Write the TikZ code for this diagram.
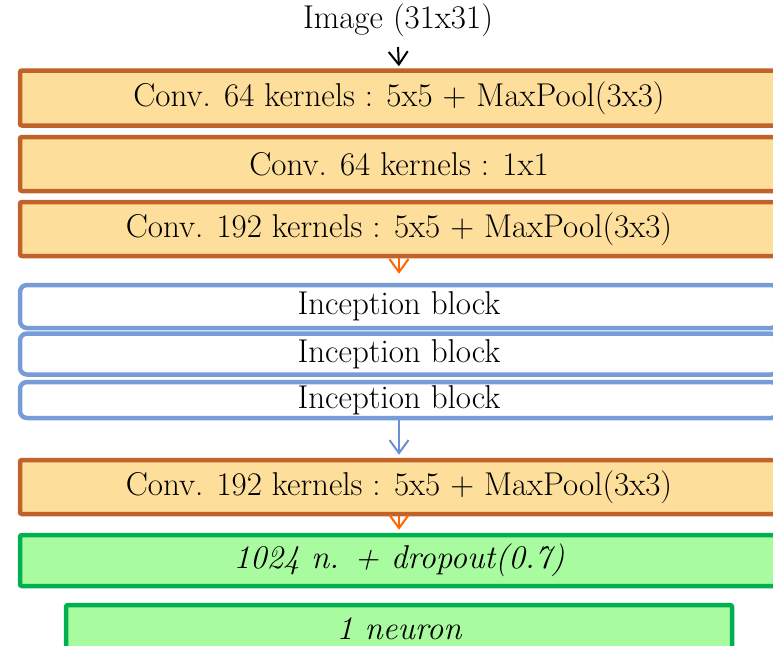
\documentclass[tikz,border=0pt]{standalone}
\usetikzlibrary{arrows.meta}
\definecolor{convline}{RGB}{192,98,42}
\definecolor{convfill}{RGB}{254,222,155}
\definecolor{incline}{RGB}{119,156,216}
\definecolor{denseline}{RGB}{0,176,80}
\definecolor{densefill}{RGB}{169,251,160}
\definecolor{arrorange}{RGB}{255,102,0}
\definecolor{arrblue}{RGB}{106,143,214}
\tikzset{
  layer/.style={minimum width=758pt,inner sep=0pt,line width=4.5pt,font=\fontsize{33}{36}\selectfont},
  convbox/.style={layer,draw=convline,fill=convfill,rounded corners=2pt,minimum height=54pt},
  incbox/.style={layer,draw=incline,fill=white,rounded corners=7pt},
  densebox/.style={layer,draw=denseline,fill=densefill,rounded corners=2pt,minimum height=51pt,font=\fontsize{33}{36}\selectfont\itshape},
  flow/.style={-{Straight Barb[length=13pt,width=19pt]},line width=2pt}
}
\begin{document}
\begin{tikzpicture}[x=1pt,y=-1pt]
  \clip (0,0) rectangle (773,645);
  \node[font=\fontsize{33}{36}\selectfont] (img) at (398,20) {Image (31x31)};
  \node[convbox,minimum height=55pt] (c1) at (399,98) {Conv. 64 kernels : 5x5 + MaxPool(3x3)};
  \node[convbox] (c2) at (399,164) {Conv. 64 kernels : 1x1};
  \node[convbox] (c3) at (399,229) {Conv. 192 kernels : 5x5 + MaxPool(3x3)};
  \node[incbox,minimum height=43pt] (i1) at (399,306.5) {Inception block};
  \node[incbox,minimum height=41pt] (i2) at (399,354) {Inception block};
  \node[incbox,minimum height=36pt] (i3) at (399,400) {Inception block};
  \node[convbox] (c4) at (399,487) {Conv. 192 kernels : 5x5 + MaxPool(3x3)};
  \node[densebox] (d1) at (399,560.5) {1024 n. + dropout(0.7)};
  \node[densebox,minimum width=666pt,minimum height=47pt] (d2) at (399,628.5) {1 neuron};
  % connectors
  \draw[flow,black,shorten >=2pt] (img.south |- 0,47) -- (c1.north);
  \draw[flow,arrorange,shorten >=9pt] (c3.south) -- (i1.north);
  \draw[flow,arrblue,shorten >=3pt] (i3.south) -- (c4.north);
  \draw[flow,arrorange,shorten >=3pt] (c4.south) -- (d1.north);
\end{tikzpicture}
\end{document}
